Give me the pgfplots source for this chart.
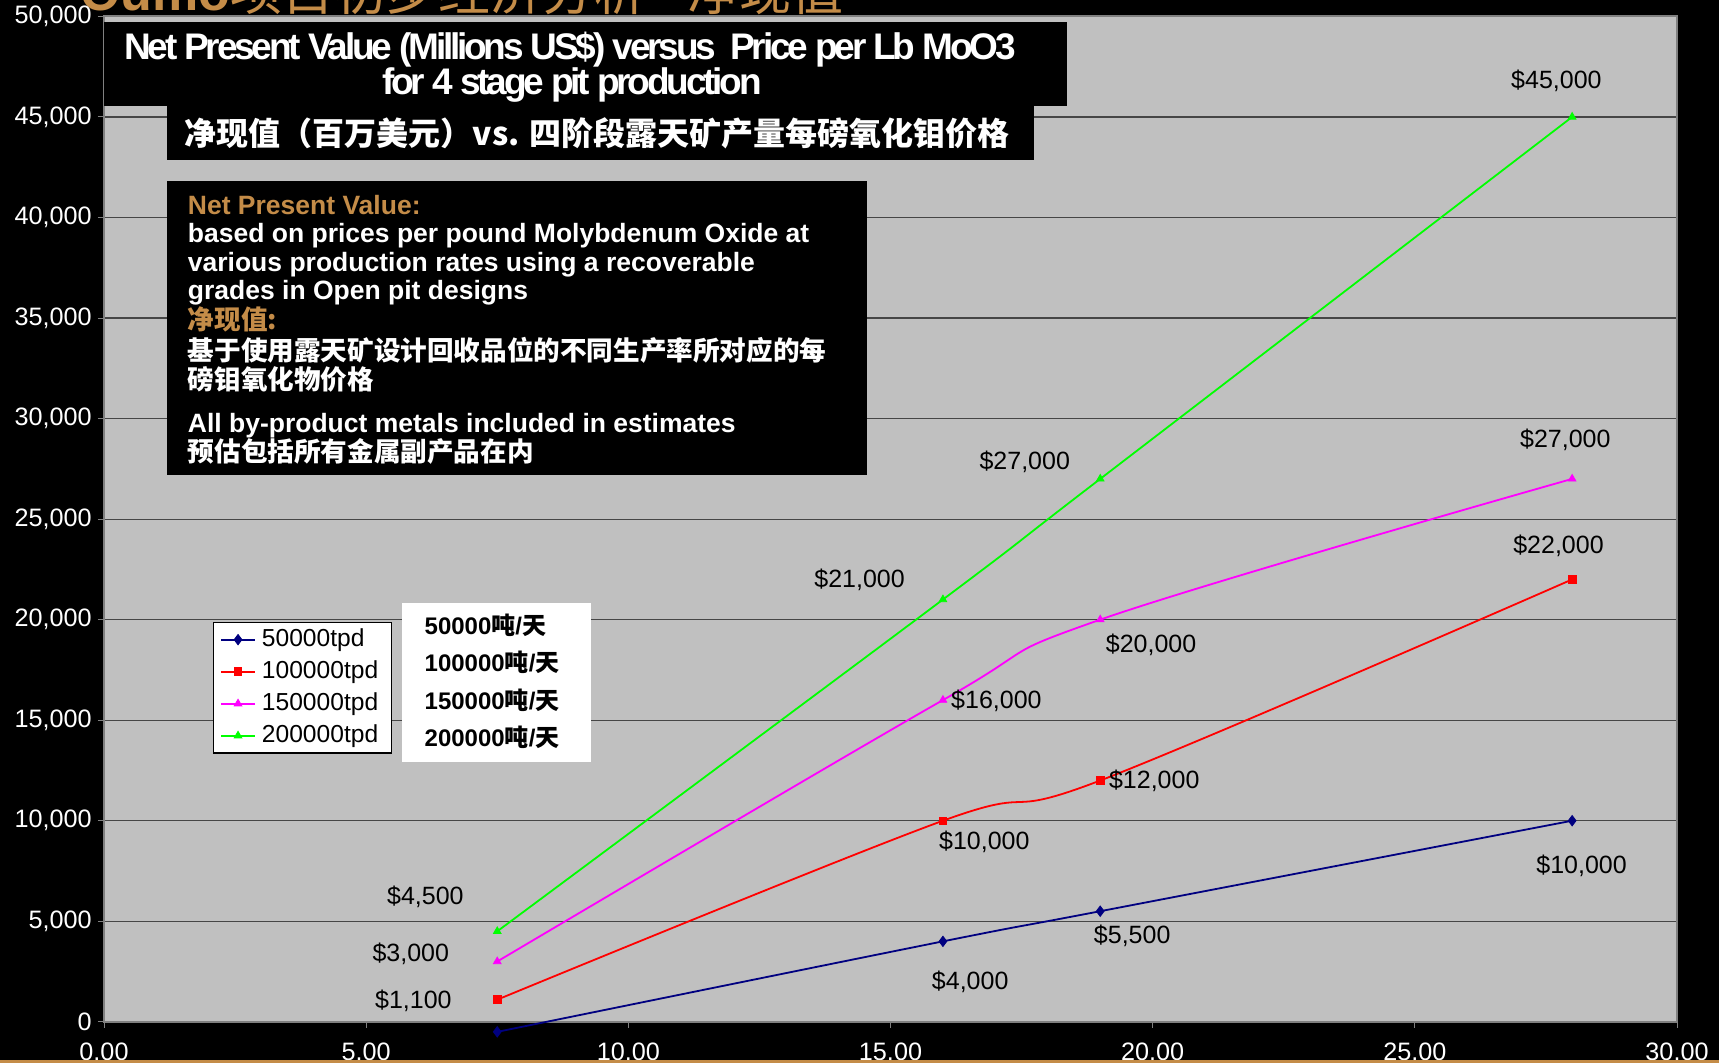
\documentclass[border=0pt]{standalone}
\usepackage{pgfplots}
\pgfplotsset{compat=1.18}
\usepackage{fontspec}
\setmainfont{Liberation Sans}
\newfontfamily\cjk{Noto Sans CJK SC}
\newfontfamily\titlefont[LetterSpace=-8.6]{Liberation Sans}
\definecolor{plotgray}{RGB}{192,192,192}
\definecolor{axisgray}{RGB}{128,128,128}
\definecolor{gridc}{RGB}{70,70,70}
\definecolor{gold}{RGB}{196,140,72}
\definecolor{navyc}{RGB}{0,0,128}
\definecolor{redc}{RGB}{255,0,0}
\definecolor{magc}{RGB}{255,0,255}
\definecolor{grnc}{RGB}{0,255,0}
\tikzset{dl/.style={font=\fontsize{12.5pt}{14pt}\selectfont, text=black, inner sep=0pt}}
\begin{document}
\begin{tikzpicture}[x=0.5pt,y=-0.5pt]
\fill[black] (0,0) rectangle (1719,1063);
\useasboundingbox (0,0) rectangle (1719,1063);
\node[anchor=base west, inner sep=0, text=gold, font=\fontsize{26pt}{26pt}\selectfont] at (80,11) {{\bfseries Oumo}{\cjk 项目初步经济分析 - 净现值}};
\begin{axis}[
  at={(52pt,-510.9pt)}, anchor=south west,
  scale only axis, width=786.5pt, height=502.7pt,
  xmin=0, xmax=30, ymin=0, ymax=50000,
  xtick={0,5,...,30}, ytick={0,5000,...,50000},
  axis background/.style={fill=plotgray},
  axis line style={draw=axisgray, line width=1pt},
  ymajorgrids, grid style={draw=gridc, line width=0.6pt},
  tick align=outside, major tick length=3pt,
  tick style={draw=axisgray, line width=0.5pt},
  xtick pos=bottom, ytick pos=left,
  ticklabel style={text=white, font=\fontsize{12.6pt}{14pt}\selectfont, inner sep=0pt},
  yticklabel style={xshift=-3pt, /pgf/number format/.cd, fixed, 1000 sep={,}, assume math mode=true},
  xticklabel style={yshift=-7.5pt, /pgf/number format/.cd, fixed, fixed zerofill, precision=2, assume math mode=true},
  scaled y ticks=false, scaled x ticks=false,
  clip=false,
  legend cell align=left,
  legend style={at={(axis cs:2.07,19900)}, anchor=north west, draw=black, line width=0.6pt,
    fill=white, font=\fontsize{12.3pt}{14pt}\selectfont, inner xsep=3.5pt, inner ysep=0.7pt,
    row sep=0pt,
    nodes={inner xsep=3pt, inner ysep=1.75pt, text height=9.5pt, text depth=3pt}},
  legend image code/.code={\draw[mark repeat=2,mark phase=2,#1] plot coordinates {(0pt,0pt)(8.5pt,0pt)(17pt,0pt)};},
  every axis plot/.append style={line width=0.9pt, smooth, tension=0.6},
]
\addplot[navyc, mark=diamond*, mark size=2.6pt, mark options={solid, fill=navyc, line width=0.4pt}]
  coordinates {(7.5,-500) (16,4000) (19,5500) (28,10000)};
\addlegendentry{50000tpd}
\addplot[redc, mark=square*, mark size=1.9pt, mark options={solid, fill=redc, line width=0.4pt}]
  coordinates {(7.5,1100) (16,10000) (19,12000) (28,22000)};
\addlegendentry{100000tpd}
\addplot[magc, mark=triangle*, mark size=2.2pt, mark options={solid, fill=magc, line width=0.4pt}]
  coordinates {(7.5,3000) (16,16000) (19,20000) (28,27000)};
\addlegendentry{150000tpd}
\addplot[grnc, mark=triangle*, mark size=2.2pt, mark options={solid, fill=grnc, line width=0.4pt}]
  coordinates {(7.5,4500) (16,21000) (19,27000) (28,45000)};
\addlegendentry{200000tpd}
\node[dl] at (axis cs:6.13,6216) {\$4,500};
\node[dl] at (axis cs:5.85,3381) {\$3,000};
\node[dl] at (axis cs:5.90,1036) {\$1,100};
\node[dl] at (axis cs:14.41,21975) {\$21,000};
\node[dl] at (axis cs:17.56,27865) {\$27,000};
\node[dl] at (axis cs:27.70,46787) {\$45,000};
\node[dl] at (axis cs:17.02,15977) {\$16,000};
\node[dl] at (axis cs:19.97,18758) {\$20,000};
\node[dl] at (axis cs:27.87,28955) {\$27,000};
\node[dl] at (axis cs:16.79,8943) {\$10,000};
\node[dl] at (axis cs:20.03,11997) {\$12,000};
\node[dl] at (axis cs:27.74,23666) {\$22,000};
\node[dl] at (axis cs:16.52,1963) {\$4,000};
\node[dl] at (axis cs:19.61,4253) {\$5,500};
\node[dl] at (axis cs:28.18,7743) {\$10,000};
\end{axis}
% title box 1
\fill[black] (104,22) rectangle (1067,106);
\node[text=white, inner sep=0, font=\titlefont\bfseries\fontsize{18.5pt}{20pt}\selectfont] at (570,49.5) {Net Present Value (Millions US\$) versus\ \ Price per Lb MoO3};
\node[text=white, inner sep=0, font=\titlefont\bfseries\fontsize{18.5pt}{20pt}\selectfont] at (572,85) {for 4 stage pit production};
% title box 2
\fill[black] (166.6,106.3) rectangle (1033.8,160);
\node[text=white, inner sep=0, font=\cjk\bfseries\fontsize{16pt}{18pt}\selectfont] at (597,133) {净现值（百万美元）vs. 四阶段露天矿产量每磅氧化钼价格};
% note box
\fill[black] (166.6,180.9) rectangle (867.2,474.7);
\begin{scope}[every node/.style={anchor=base west, inner sep=0, text=white}]
\node[text=gold, font=\bfseries\fontsize{13.25pt}{15pt}\selectfont] at (187.5,214.3) {Net Present Value:};
\node[font=\bfseries\fontsize{13.25pt}{15pt}\selectfont] at (187.5,242.8) {based on prices per pound Molybdenum Oxide at};
\node[font=\bfseries\fontsize{13.25pt}{15pt}\selectfont] at (187.5,271.3) {various production rates using a recoverable};
\node[font=\bfseries\fontsize{13.25pt}{15pt}\selectfont] at (187.5,299.8) {grades in Open pit designs};
\node[text=gold, font=\cjk\bfseries\fontsize{13.3pt}{15pt}\selectfont] at (187.5,330) {净现值:};
\node[font=\cjk\bfseries\fontsize{13.3pt}{15pt}\selectfont] at (187.5,360.8) {基于使用露天矿设计回收品位的不同生产率所对应的每};
\node[font=\cjk\bfseries\fontsize{13.3pt}{15pt}\selectfont] at (187.5,389.3) {磅钼氧化物价格};
\node[font=\bfseries\fontsize{13.25pt}{15pt}\selectfont] at (187.5,432.5) {All by-product metals included in estimates};
\node[font=\cjk\bfseries\fontsize{13.3pt}{15pt}\selectfont] at (187.5,461.7) {预估包括所有金属副产品在内};
\end{scope}
% chinese legend box
\fill[white] (402.3,603) rectangle (590.9,762);
\begin{scope}[every node/.style={anchor=base west, inner sep=0, text=black, font=\bfseries\fontsize{12pt}{14pt}\selectfont}]
\node at (424.3,634.6) {50000{\cjk 吨}/{\cjk 天}};
\node at (424.3,671.9) {100000{\cjk 吨}/{\cjk 天}};
\node at (424.3,709.1) {150000{\cjk 吨}/{\cjk 天}};
\node at (424.3,746.4) {200000{\cjk 吨}/{\cjk 天}};
\end{scope}
\draw[gold, line width=1.5pt] (0,1061.5) -- (1719,1061.5);
\end{tikzpicture}
\end{document}
